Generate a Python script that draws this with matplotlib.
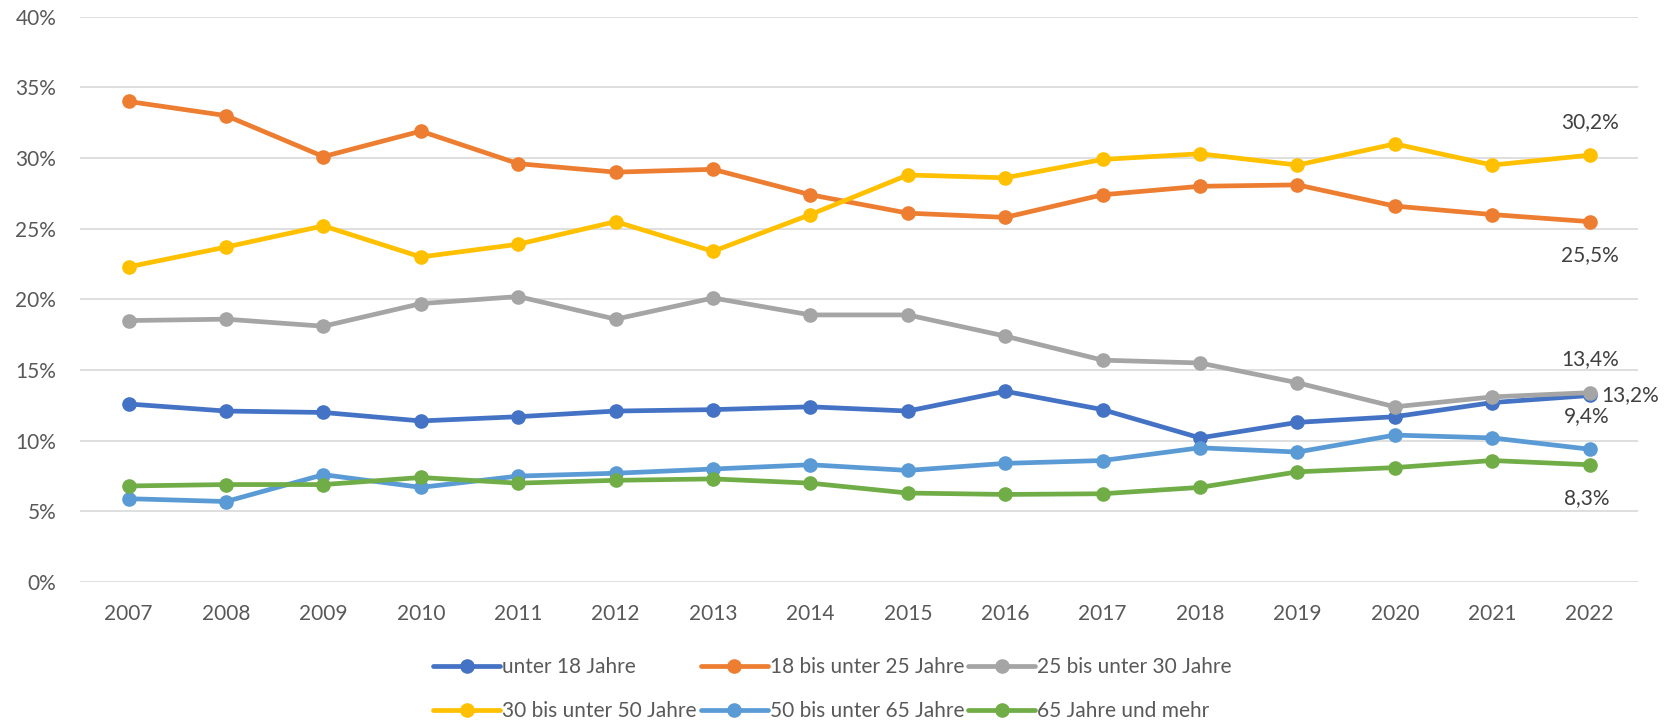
import numpy as np
import matplotlib.pyplot as plt
from matplotlib.ticker import FuncFormatter

plt.rcParams['font.family'] = ['Lato', 'DejaVu Sans']

years = [str(y) for y in range(2007, 2023)]

unter_18 = [12.6, 12.1, 12.0, 11.4, 11.7, 12.1, 12.2, 12.4, 12.1, 13.5, 12.2, 10.2, 11.3, 11.7, 12.7, 13.2]
bis_25 = [34.0, 33.0, 30.1, 31.9, 29.6, 29.0, 29.2, 27.4, 26.1, 25.8, 27.4, 28.0, 28.1, 26.6, 26.0, 25.5]
bis_30 = [18.5, 18.6, 18.1, 19.7, 20.2, 18.6, 20.1, 18.9, 18.9, 17.4, 15.7, 15.5, 14.1, 12.4, 13.1, 13.4]
bis_50 = [22.3, 23.7, 25.2, 23.0, 23.9, 25.5, 23.4, 26.0, 28.8, 28.6, 29.9, 30.3, 29.5, 31.0, 29.5, 30.2]
bis_65 = [5.9, 5.7, 7.6, 6.7, 7.5, 7.7, 8.0, 8.3, 7.9, 8.4, 8.6, 9.5, 9.2, 10.4, 10.2, 9.4]
ab_65 = [6.8, 6.9, 6.9, 7.4, 7.0, 7.2, 7.3, 7.0, 6.3, 6.2, 6.25, 6.7, 7.8, 8.1, 8.6, 8.3]

names = ["unter 18 Jahre", "18 bis unter 25 Jahre", "25 bis unter 30 Jahre",
         "30 bis unter 50 Jahre", "50 bis unter 65 Jahre", "65 Jahre und mehr"]
series = [unter_18, bis_25, bis_30, bis_50, bis_65, ab_65]
colors = ["#4472C4", "#ED7D31", "#A5A5A5", "#FFC000", "#5B9BD5", "#70AD47"]
# offset (points) of the end label for each series
label_off = [(8, 0), (0, -24), (0, 24), (0, 24), (-2, 24), (-2, -24)]
label_ha = ["left", "center", "center", "center", "center", "center"]

fig = plt.figure(figsize=(16.65, 7.24), dpi=100)
ax = fig.add_axes([0.048, 0.196, 0.936, 0.781])

x = np.arange(len(years))
handles = []
for vals, name, c in zip(series, names, colors):
    v = np.array(vals) / 100
    h, = ax.plot(x, v, color=c, lw=3.4, marker="o", markersize=9.5, label=name,
                 solid_capstyle="round", solid_joinstyle="round")
    handles.append(h)

for vals, c, off, ha in zip(series, colors, label_off, label_ha):
    txt = "{:.1f}%".format(vals[-1]).replace(".", ",")
    ax.annotate(txt, (x[-1], vals[-1] / 100), xytext=off, textcoords="offset points",
                ha=ha, va="center", fontsize=15, color="#404040")

ax.set_xlim(-0.5, len(years) - 0.5)
ax.set_ylim(0, 0.40)
ax.set_yticks(np.arange(0, 0.41, 0.05))
ax.yaxis.set_major_formatter(FuncFormatter(lambda v, p: "{:.0f}%".format(v * 100)))
ax.set_xticks(x)
ax.set_xticklabels(years)
ax.grid(axis="y", color="#D9D9D9", lw=1.2)
ax.set_axisbelow(True)
for s in ax.spines.values():
    s.set_visible(False)
ax.tick_params(length=0, labelsize=15, labelcolor="#595959", pad=16)
ax.tick_params(axis="y", pad=17)

# row-wise order in a 3-column legend
order = [0, 3, 1, 4, 2, 5]
fig.legend([handles[i] for i in order], [names[i] for i in order], ncol=3,
           loc="lower center", bbox_to_anchor=(0.5, -0.022), frameon=False,
           fontsize=15, labelcolor="#595959", handlelength=3.2, handletextpad=0.1,
           columnspacing=0.2, labelspacing=1.15)

fig.savefig("out.png", dpi=100)
